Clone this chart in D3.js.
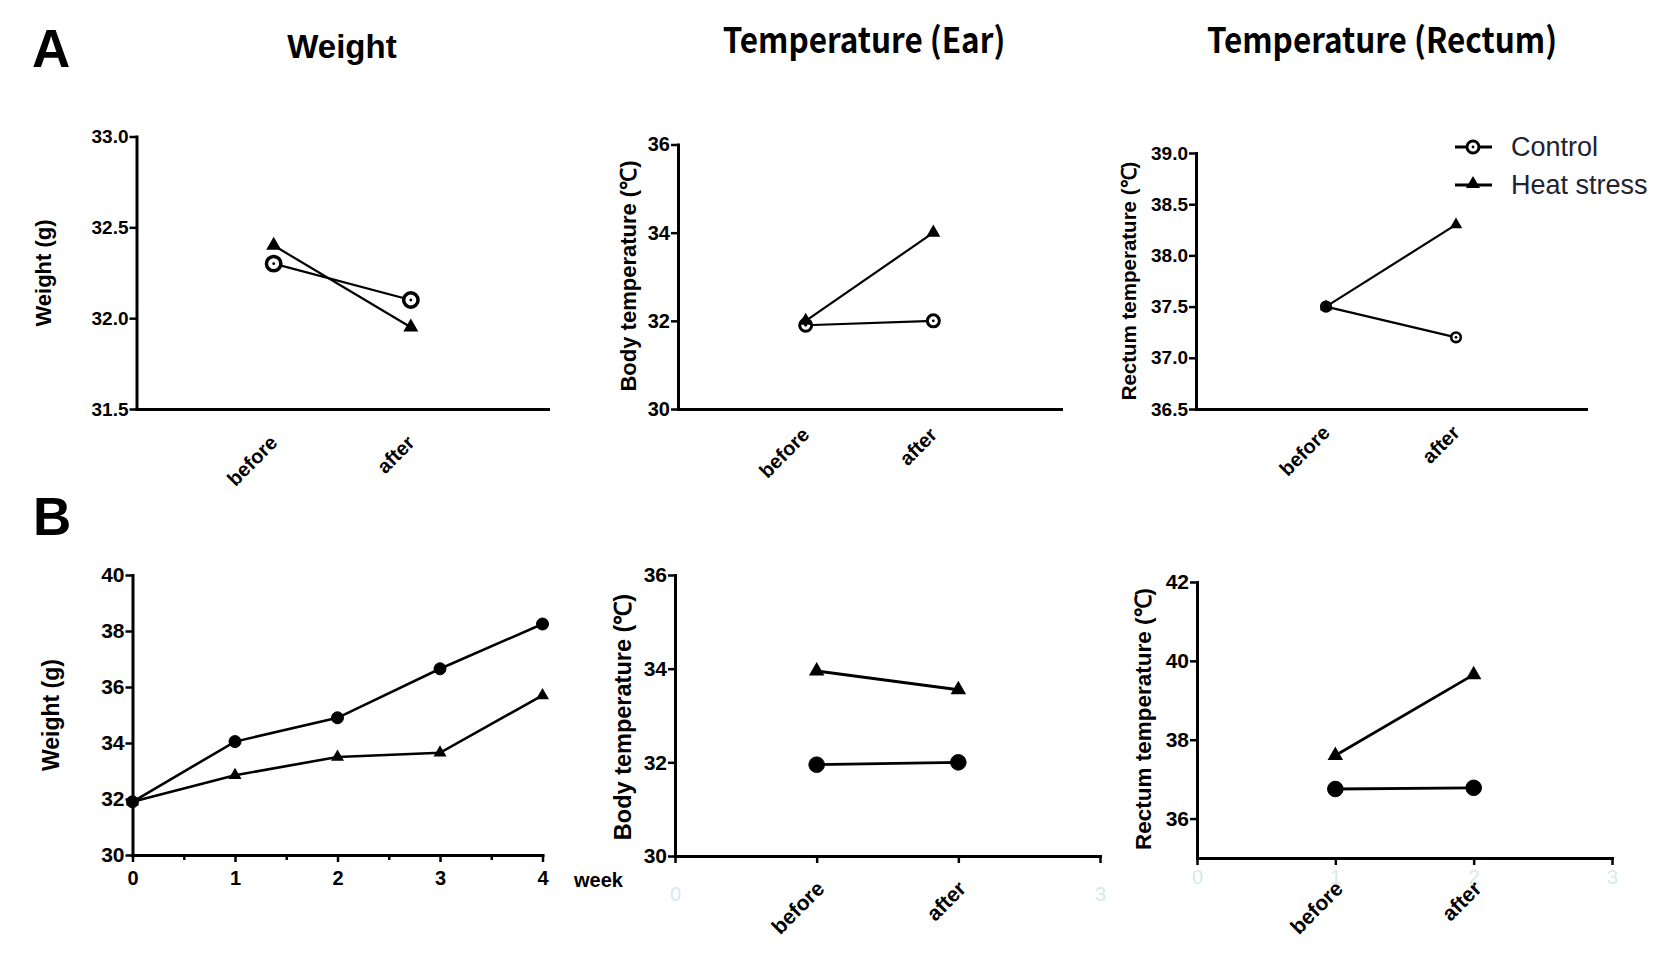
<!DOCTYPE html>
<html>
<head>
<meta charset="utf-8">
<script src="https://cdn.jsdelivr.net/npm/d3@7"></script>
<style>
  body { margin: 0; background: #fff; }
  text { font-family: "Liberation Sans", Arial, sans-serif; }
  .tick text { font-weight: bold; fill: #000; }
</style>
</head>
<body>
<svg id="chart" width="1676" height="966"></svg>
<script>
// ---- data ----
const phases = ["before", "after"];
const phasePos = [1, 2];
const weeks = [0, 1, 2, 3, 4];

// A: single heat exposure
const weightAControl = [32.3, 32.1];
const weightAHeat = [32.4, 31.95];
const earAControl = [31.9, 32.0];
const earAHeat = [32.0, 34.0];
const rectumAControl = [37.5, 37.2];
const rectumAHeat = [37.5, 38.3];

// B: four weeks
const weightBControl = [31.9, 34.05, 34.9, 36.65, 38.25];
const weightBHeat = [31.9, 32.85, 33.5, 33.65, 35.7];
const earBControl = [31.95, 32.0];
const earBHeat = [33.95, 33.55];
const rectumBControl = [36.75, 36.78];
const rectumBHeat = [37.6, 39.65];

// tick labels
const weightATicks = [31.5, 32.0, 32.5, 33.0];
const earATicks = [30, 32, 34, 36];
const rectumATicks = [36.5, 37.0, 37.5, 38.0, 38.5, 39.0];
const weightBTicks = [30, 32, 34, 36, 38, 40];
const earBTicks = [30, 32, 34, 36];
const rectumBTicks = [36, 38, 40, 42];
const weekTicks = [0, 1, 2, 3, 4];
const weekMinor = [0.5, 1.5, 2.5, 3.5];
const slotTicks = [0, 1, 2, 3];

const titles = ["Weight", "Temperature (Ear)", "Temperature (Rectum)"];
const seriesNames = ["Control", "Heat stress"];

const svg = d3.select("#chart");
svg.append("rect").attr("width", 1676).attr("height", 966).attr("fill", "#fff");

function marker(g, type, open, size, cx, cy, sw) {
    if (type === "circle") {
        g.append("circle")
            .attr("cx", cx).attr("cy", cy).attr("r", size)
            .attr("fill", open ? "#fff" : "#000")
            .attr("stroke", "#000").attr("stroke-width", open ? sw : 1);
        if (open) {
            g.append("circle").attr("cx", cx).attr("cy", cy).attr("r", 1.4).attr("fill", "#000");
        }
    } else {
        const area = Math.sqrt(3) / 4 * size * size;
        g.append("path")
            .attr("d", d3.symbol().type(d3.symbolTriangle).size(area)())
            .attr("transform", `translate(${cx},${cy})`)
            .attr("fill", "#000");
    }
}

function drawPanel(p) {
    const g = svg.append("g");
    const x = d3.scaleLinear().domain(p.xDomain).range([p.left, p.right]);
    const y = d3.scaleLinear().domain(p.yDomain).range([p.bottom, p.top]);

    // y axis
    const gy = g.append("g")
        .attr("transform", `translate(${p.left},0)`)
        .call(d3.axisLeft(y).tickValues(p.yTicks).tickFormat(d3.format(p.yFmt))
            .tickSize(7).tickSizeOuter(0).tickPadding(1));
    gy.select(".domain").attr("stroke-width", 3).attr("stroke-linecap", "square");
    gy.selectAll(".tick line").attr("stroke-width", 2.5);
    gy.selectAll(".tick text").style("font-size", p.tickFont + "px");

    // x axis
    const gx = g.append("g")
        .attr("transform", `translate(0,${p.bottom})`)
        .call(d3.axisBottom(x).tickValues(p.xTicks || []).tickFormat(d3.format("d"))
            .tickSize(7).tickSizeOuter(0).tickPadding(p.xPad || 9));
    gx.select(".domain").attr("stroke-width", 3).attr("stroke-linecap", "square");
    gx.selectAll(".tick line").attr("stroke-width", 2.5);
    gx.selectAll(".tick text").style("font-size", "20px")
        .style("fill", p.faint ? "#d6eaec" : "#000")
        .style("font-weight", p.faint ? "normal" : "bold");
    gx.selectAll(".tick text").filter(d => p.faintShow && !p.faintShow.includes(d)).remove();

    if (p.xMinor) {
        g.append("g")
            .attr("transform", `translate(0,${p.bottom})`)
            .call(d3.axisBottom(x).tickValues(p.xMinor).tickFormat("").tickSize(5).tickSizeOuter(0))
            .call(a => a.select(".domain").remove())
            .selectAll(".tick line").attr("stroke-width", 2.5);
    }

    // category labels
    if (p.cats) {
        p.cats.forEach((c, i) => {
            g.append("text")
                .attr("transform", `translate(${x(p.xs[i]) + p.catDx},${p.bottom + p.catDy}) rotate(-45)`)
                .attr("text-anchor", "end")
                .style("font-size", p.catFont + "px").style("font-weight", "bold")
                .text(c);
        });
    }

    // y label
    g.append("text")
        .attr("transform", `translate(${p.yLabelX},${p.yLabelY}) rotate(-90)`)
        .attr("text-anchor", "middle")
        .attr("dominant-baseline", "central")
        .style("font-size", p.yLabelFont + "px").style("font-weight", "bold")
        .text(p.yLabel);

    // series
    const line = d3.line().x(d => x(d[0])).y(d => y(d[1]));
    const ctrl = p.xs.map((v, i) => [v, p.control[i]]);
    const heat = p.xs.map((v, i) => [v, p.heat[i]]);
    [ctrl, heat].forEach(s => {
        g.append("path").datum(s).attr("d", line)
            .attr("fill", "none").attr("stroke", "#000").attr("stroke-width", p.lineW);
    });
    ctrl.forEach(d => marker(g, "circle", p.openCircle, p.circleR, x(d[0]), y(d[1]), p.ringW));
    heat.forEach(d => marker(g, "triangle", false, p.triSide, x(d[0]), y(d[1])));
}

const panels = [
    { left: 136.5, right: 548, top: 136.5, bottom: 409, xDomain: [0, 3], yDomain: [31.5, 33.0],
      yTicks: weightATicks, yFmt: ".1f", tickFont: 19, xs: phasePos, cats: phases, catDx: 5, catDy: 35, catFont: 20,
      yLabel: "Weight (g)", yLabelX: 43, yLabelY: 273, yLabelFont: 22,
      control: weightAControl, heat: weightAHeat, openCircle: true, circleR: 7.2, ringW: 3.5, triSide: 15, lineW: 2.2 },
    { left: 678, right: 1061, top: 144.5, bottom: 409, xDomain: [0, 3], yDomain: [30, 36],
      yTicks: earATicks, yFmt: "d", tickFont: 20, xs: phasePos, cats: phases, catDx: 5, catDy: 27, catFont: 20,
      yLabel: "Body temperature (℃)", yLabelX: 628, yLabelY: 276, yLabelFont: 22,
      control: earAControl, heat: earAHeat, openCircle: true, circleR: 6, ringW: 3, triSide: 14, lineW: 2.2 },
    { left: 1196, right: 1586, top: 153, bottom: 409, xDomain: [0, 3], yDomain: [36.5, 39.0],
      yTicks: rectumATicks, yFmt: ".1f", tickFont: 19, xs: phasePos, cats: phases, catDx: 5, catDy: 25, catFont: 20,
      yLabel: "Rectum temperature (℃)", yLabelX: 1128, yLabelY: 281, yLabelFont: 20.5,
      control: rectumAControl, heat: rectumAHeat, openCircle: true, circleR: 4.8, ringW: 2.6, triSide: 12.5, lineW: 2.2 },
    { left: 132.5, right: 542.5, top: 575, bottom: 855, xDomain: [0, 4], yDomain: [30, 40],
      yTicks: weightBTicks, yFmt: "d", tickFont: 21, xs: weeks, xTicks: weekTicks, xMinor: weekMinor, xPad: 9,
      yLabel: "Weight (g)", yLabelX: 51, yLabelY: 715, yLabelFont: 23,
      control: weightBControl, heat: weightBHeat, openCircle: false, circleR: 6, triSide: 13, lineW: 2.6 },
    { left: 675, right: 1100, top: 575, bottom: 856, xDomain: [0, 3], yDomain: [30, 36],
      yTicks: earBTicks, yFmt: "d", tickFont: 21, xs: phasePos, xTicks: slotTicks, xPad: 24, faint: true, faintShow: [0, 3],
      cats: phases, catDx: 9, catDy: 34, catFont: 21,
      yLabel: "Body temperature (℃)", yLabelX: 623, yLabelY: 717, yLabelFont: 23.5,
      control: earBControl, heat: earBHeat, openCircle: false, circleR: 7.8, triSide: 15.5, lineW: 2.8 },
    { left: 1197, right: 1612, top: 582, bottom: 858, xDomain: [0, 3], yDomain: [35, 42],
      yTicks: rectumBTicks, yFmt: "d", tickFont: 21, xs: phasePos, xTicks: slotTicks, xPad: 5, faint: true,
      cats: phases, catDx: 9, catDy: 32, catFont: 21,
      yLabel: "Rectum temperature (℃)", yLabelX: 1143, yLabelY: 719, yLabelFont: 22.5,
      control: rectumBControl, heat: rectumBHeat, openCircle: false, circleR: 7.8, triSide: 15.5, lineW: 2.8 }
];
panels.forEach(drawPanel);

// week label
svg.append("text").attr("x", 574).attr("y", 887)
    .style("font-size", "20px").style("font-weight", "bold").text("week");

// panel letters
svg.append("text").attr("x", 32).attr("y", 67).style("font-size", "53px").style("font-weight", "bold").text("A");
svg.append("text").attr("x", 33).attr("y", 535).style("font-size", "53px").style("font-weight", "bold").text("B");

// titles
svg.append("text").attr("x", 342).attr("y", 58).attr("text-anchor", "middle")
    .style("font-size", "33px").style("font-weight", "bold").text(titles[0]);
[[864, titles[1]], [1382, titles[2]]].forEach(([cx, t]) => {
    svg.append("text").attr("transform", `translate(${cx},53) scale(0.9,1)`).attr("text-anchor", "middle")
        .style("font-family", "'Noto Sans CJK KR', sans-serif")
        .style("font-size", "35px").style("font-weight", "bold").text(t);
});

// legend
const legend = svg.append("g");
const legendY = [147, 185];
legendY.forEach((ly, i) => {
    legend.append("line").attr("x1", 1455).attr("x2", 1492).attr("y1", ly).attr("y2", ly)
        .attr("stroke", "#000").attr("stroke-width", 3);
    if (i === 0) marker(legend, "circle", true, 6, 1473, ly, 3);
    else marker(legend, "triangle", false, 14, 1473, ly - 1);
    legend.append("text").attr("x", 1511).attr("y", ly + 9)
        .style("font-size", "27px").style("fill", "#222230").text(seriesNames[i]);
});
</script>
</body>
</html>
